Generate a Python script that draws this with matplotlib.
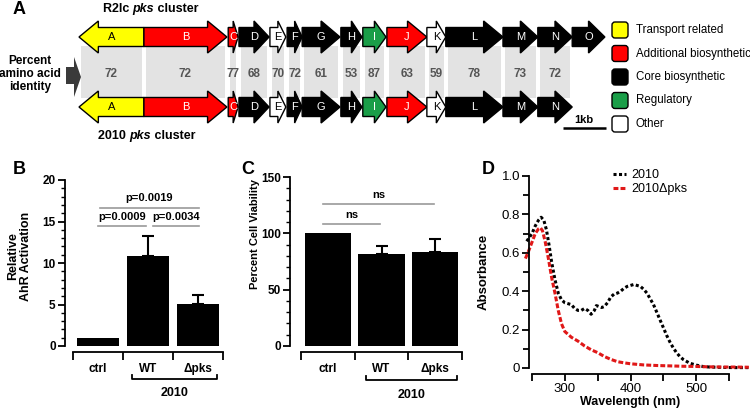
import numpy as np
import matplotlib
matplotlib.use('Agg')
import matplotlib.pyplot as plt
from matplotlib.patches import Polygon, Rectangle, FancyBboxPatch
from matplotlib.ticker import MultipleLocator, FixedLocator, FuncFormatter

plt.rcParams['font.family'] = ['Liberation Sans', 'DejaVu Sans']

W, H = 750, 409

# ---------------- panel A data (gene coordinates in kb) ----------------
gene_names = ['A', 'B', 'C', 'D', 'E', 'F', 'G', 'H', 'I', 'J', 'K', 'L', 'M', 'N', 'O']
gene_start = [0.00, 1.51, 3.47, 3.72, 4.44, 4.84, 5.19, 6.09, 6.60, 7.16, 8.09, 8.53, 9.86, 10.67, 11.47]
gene_end = [1.51, 3.44, 3.70, 4.42, 4.81, 5.19, 6.07, 6.58, 7.14, 8.09, 8.53, 9.86, 10.67, 11.47, 12.23]
gene_dir = [-1, 1, 1, 1, 1, 1, 1, 1, 1, 1, 1, 1, 1, 1, 1]
gene_cat = ['transport', 'additional', 'additional', 'core', 'other', 'core', 'core', 'core',
            'regulatory', 'additional', 'other', 'core', 'core', 'core', 'core']
in_2010 = [True] * 14 + [False]
identity = [72, 72, 77, 68, 70, 72, 61, 53, 87, 63, 59, 78, 73, 72]

cat_keys = ['transport', 'additional', 'core', 'regulatory', 'other']
cat_labels = ['Transport related', 'Additional biosynthetic', 'Core biosynthetic', 'Regulatory', 'Other']
cat_colors = ['#ffff00', '#ff0000', '#000000', '#1a9e48', '#ffffff']

# ---------------- panel B / C data ----------------
groups = ['ctrl', 'WT', '\u0394pks']
ahr_mean = [1.0, 10.9, 5.1]
ahr_err = [0.0, 2.3, 1.1]
viab_mean = [100, 82, 83]
viab_err = [0, 7, 12]

# ---------------- panel D data ----------------
wl_wt = [242, 246, 250, 255, 260, 264, 268, 272, 276, 280, 285, 290, 295, 300, 305, 310, 315, 320,
         325, 330, 335, 340, 345, 348, 352, 356, 360, 365, 370, 375, 380, 385, 390, 395, 400, 405,
         410, 415, 420, 425, 430, 435, 440, 445, 450, 455, 460, 465, 470, 475, 480, 490, 500, 510,
         520, 540, 560, 580]
abs_wt = [0.66, 0.68, 0.70, 0.74, 0.77, 0.785, 0.77, 0.72, 0.64, 0.55, 0.46, 0.39, 0.355, 0.34,
          0.335, 0.33, 0.31, 0.30, 0.30, 0.31, 0.30, 0.28, 0.30, 0.325, 0.32, 0.315, 0.32, 0.34,
          0.37, 0.385, 0.39, 0.40, 0.415, 0.425, 0.43, 0.435, 0.43, 0.425, 0.41, 0.39, 0.36, 0.33,
          0.29, 0.25, 0.21, 0.17, 0.135, 0.105, 0.08, 0.06, 0.045, 0.025, 0.015, 0.008, 0.005,
          0.003, 0.002, 0.002]
wl_pks = [240, 245, 250, 255, 260, 263, 266, 270, 275, 280, 285, 290, 295, 300, 310, 320, 330,
          340, 350, 360, 370, 380, 390, 400, 420, 440, 460, 480, 500, 520, 540, 560, 580]
abs_pks = [0.57, 0.61, 0.655, 0.70, 0.725, 0.73, 0.715, 0.66, 0.57, 0.47, 0.39, 0.30, 0.23,
           0.19, 0.16, 0.14, 0.115, 0.095, 0.08, 0.06, 0.045, 0.033, 0.027, 0.022, 0.016, 0.013,
           0.011, 0.009, 0.008, 0.006, 0.005, 0.005, 0.004]

fig = plt.figure(figsize=(W / 100, H / 100), dpi=100)
fig.patch.set_facecolor('white')


def add_px_axes(left, top, right, bottom):
    return fig.add_axes([left / W, 1 - bottom / H, (right - left) / W, (bottom - top) / H])


def gene_arrow(ax, s, e, yc, d, color):
    hl = min(0.45, 0.5 * (e - s))
    bh, hh = 9.5, 16
    if d > 0:
        pts = [(s, yc - bh), (e - hl, yc - bh), (e - hl, yc - hh), (e, yc),
               (e - hl, yc + hh), (e - hl, yc + bh), (s, yc + bh)]
    else:
        pts = [(e, yc - bh), (s + hl, yc - bh), (s + hl, yc - hh), (s, yc),
               (s + hl, yc + hh), (s + hl, yc + bh), (e, yc + bh)]
    ax.add_patch(Polygon(pts, closed=True, facecolor=color, edgecolor='black',
                         lw=1.0, joinstyle='miter', zorder=3))


# ======================= panel A =======================
KB = 43.0   # px per kb
X0 = 79.0   # px of gene A tip
axA = add_px_axes(0, 0, W, 170)
axA.set_xlim(-X0 / KB, (W - X0) / KB)
axA.set_ylim(170, 0)
axA.axis('off')

color_of = dict(zip(cat_keys, cat_colors))
row_top, row_bot = 37, 107
gap = 0.045
for i, pct in enumerate(identity):
    s, e = gene_start[i] + gap, gene_end[i] - gap
    axA.add_patch(Rectangle((s, 46), e - s, 52, facecolor='#e3e3e3', edgecolor='none', zorder=1))
    axA.text((s + e) / 2, 74, str(pct), ha='center', va='center', fontsize=8.5,
             fontweight='bold', color='#555555', zorder=2)

for i, name in enumerate(gene_names):
    col = color_of[gene_cat[i]]
    tcol = 'black' if gene_cat[i] in ('transport', 'other') else 'white'
    xc = (gene_start[i] + gene_end[i]) / 2
    rows = [row_top] + ([row_bot] if in_2010[i] else [])
    for yc in rows:
        gene_arrow(axA, gene_start[i], gene_end[i], yc, gene_dir[i], col)
        axA.text(xc, yc + 0.5, name, ha='center', va='center', fontsize=8, color=tcol, zorder=4)

# cluster titles with italic "pks"
for x0, y0, first in [(0.55, 12, 'R2lc '), (0.44, 139, '2010 ')]:
    t1 = axA.text(x0, y0, first, ha='left', va='baseline', fontsize=9, fontweight='bold')
    t2 = axA.annotate('pks', xy=(1, 0), xycoords=t1, ha='left', va='bottom',
                      fontsize=9, fontweight='bold', style='italic')
    axA.annotate(' cluster', xy=(1, 0), xycoords=t2, ha='left', va='bottom',
                 fontsize=9, fontweight='bold')

axA.text(-1.14, 74, 'Percent\namino acid\nidentity', ha='center', va='center',
         fontsize=8.5, fontweight='bold', linespacing=1.15)
arr = [(66, 67), (74, 67), (74, 57), (81, 77), (74, 97), (74, 84), (66, 84)]
axA.add_patch(Polygon([((px - X0) / KB, py) for px, py in arr], closed=True,
                      facecolor='#3a3a3a', edgecolor='none'))

# category legend
for i, (lab, col) in enumerate(zip(cat_labels, cat_colors)):
    yc = 30 + i * 23.5
    axA.add_patch(FancyBboxPatch(((612 - X0) / KB, yc - 8), 16 / KB, 16,
                                 boxstyle='round,pad=0,rounding_size=0.07',
                                 mutation_aspect=KB, facecolor=col, edgecolor='black', lw=1.0))
    axA.text((636 - X0) / KB, yc, lab, ha='left', va='center', fontsize=8.3)

# scale bar
axA.plot([11.25, 12.25], [128, 128], color='black', lw=1.8, solid_capstyle='butt')
axA.text(11.75, 120, '1kb', ha='center', va='center', fontsize=8, fontweight='bold')


# ======================= panels B and C =======================
def prism_bar(ax, means, errs, width, ymax, major, minor, left_out):
    x = np.arange(len(means))
    ax.bar(x, means, width=width, color='black', edgecolor='none', zorder=2)
    ax.errorbar(x[1:], means[1:], yerr=[[0] * (len(means) - 1), errs[1:]], fmt='none',
                ecolor='black', elinewidth=1.5, capsize=4.5, capthick=1.5, zorder=3)
    ax.set_xlim(-0.5, len(means) - 0.5)
    ax.set_ylim(0, ymax)
    for sp in ('top', 'right'):
        ax.spines[sp].set_visible(False)
    ax.spines['left'].set_position(('outward', left_out))
    ax.spines['bottom'].set_position(('outward', 4))
    for sp in ('left', 'bottom'):
        ax.spines[sp].set_linewidth(1.3)
    ax.yaxis.set_major_locator(MultipleLocator(major))
    ax.yaxis.set_minor_locator(MultipleLocator(minor))
    ax.tick_params(axis='y', which='major', length=5, width=1.3, labelsize=8.5, pad=1.5)
    ax.tick_params(axis='y', which='minor', length=3, width=1.0)
    ax.set_xticks(x)
    ax.set_xticklabels(groups, fontsize=8.5, fontweight='bold')
    ax.xaxis.set_minor_locator(FixedLocator(np.arange(-0.5, len(means), 1.0)))
    ax.tick_params(axis='x', which='major', length=0, pad=8)
    ax.tick_params(axis='x', which='minor', length=6, width=1.3)
    for lab in ax.get_yticklabels():
        lab.set_fontweight('bold')
    ax.patch.set_alpha(0)


def sig(ax, x1, x2, y, text, dy):
    ax.plot([x1, x2], [y, y], color='#9a9a9a', lw=1.2, clip_on=False)
    ax.text((x1 + x2) / 2, y + dy, text, ha='center', va='center', fontsize=8,
            fontweight='bold')


def group_bracket(ax, x1, x2, ybr, ytxt):
    tr = ax.get_xaxis_transform()
    ax.plot([x1, x1, x2, x2], [ybr + 0.025, ybr, ybr, ybr + 0.025], color='black', lw=1.3,
            transform=tr, clip_on=False)
    ax.text((x1 + x2) / 2, ytxt, '2010', ha='center', va='center', fontsize=9,
            fontweight='bold', transform=tr)


axB = add_px_axes(73, 180, 223, 346)
prism_bar(axB, ahr_mean, ahr_err, 0.84, 20, 5, 1, 6)
axB.set_ylabel('Relative\nAhR Activation', fontsize=9, fontweight='bold', linespacing=1.1)
axB.yaxis.set_label_coords(-0.275, 0.54)
sig(axB, 0.0, 0.96, 14.5, 'p=0.0009', 1.1)
sig(axB, 1.1, 2.02, 14.5, 'p=0.0034', 1.1)
sig(axB, 0.04, 2.02, 16.6, 'p=0.0019', 1.2)
group_bracket(axB, 0.68, 2.38, -0.2, -0.285)

axC = add_px_axes(301, 177, 462, 346)
prism_bar(axC, viab_mean, viab_err, 0.86, 150, 50, 10, 8)
axC.set_ylabel('Percent Cell Viability', fontsize=8, fontweight='bold')
axC.yaxis.set_label_coords(-0.255, 0.66)
sig(axC, -0.09, 0.97, 108, 'ns', 8)
sig(axC, -0.09, 1.98, 126, 'ns', 8)
group_bracket(axC, 0.71, 2.4, -0.2, -0.29)

# ======================= panel D =======================
axD = add_px_axes(525.4, 176, 748.8, 368)
axD.plot(wl_wt, abs_wt, color='black', lw=2.2, linestyle=(0, (1.0, 0.8)), label='2010',
         clip_on=False)
axD.plot(wl_pks, abs_pks, color='#e01818', lw=2.2, linestyle=(0, (1.6, 0.7)),
         label='2010\u0394pks', clip_on=False)
axD.set_xlim(240, 580)
axD.set_ylim(0, 1.0)
for sp in ('top', 'right'):
    axD.spines[sp].set_visible(False)
axD.spines['left'].set_position(('data', 246))
axD.spines['bottom'].set_position(('outward', 4))
axD.spines['bottom'].set_bounds(250, 550)
for sp in ('left', 'bottom'):
    axD.spines[sp].set_linewidth(1.3)
axD.xaxis.set_major_locator(FixedLocator([300, 400, 500]))
axD.xaxis.set_minor_locator(FixedLocator([250, 350, 450, 550]))
axD.yaxis.set_major_locator(MultipleLocator(0.2))
axD.yaxis.set_minor_locator(MultipleLocator(0.1))
axD.yaxis.set_major_formatter(FuncFormatter(lambda v, p: '0' if abs(v) < 1e-9 else f'{v:.1f}'))
axD.tick_params(which='both', length=5, width=1.3, labelsize=9.5, pad=1.5)
axD.tick_params(axis='y', which='minor', length=4)
axD.set_xlabel('Wavelength (nm)', fontsize=9, fontweight='bold')
axD.xaxis.set_label_coords(0.47, -0.148)
axD.set_ylabel('Absorbance', fontsize=9.5, fontweight='bold')
axD.yaxis.set_label_coords(-0.16, 0.5)
axD.legend(loc='upper left', bbox_to_anchor=(0.39, 1.035), frameon=False, fontsize=9,
           handlelength=1.1, handletextpad=0.4, labelspacing=0.15, borderpad=0,
           borderaxespad=0)
axD.patch.set_alpha(0)

# panel letters
for lab, px, py in [('A', 19, 10), ('B', 19, 170), ('C', 248, 170), ('D', 488, 170)]:
    fig.text(px / W, 1 - py / H, lab, ha='center', va='center', fontsize=13, fontweight='bold')

fig.savefig('out.png', dpi=100)
